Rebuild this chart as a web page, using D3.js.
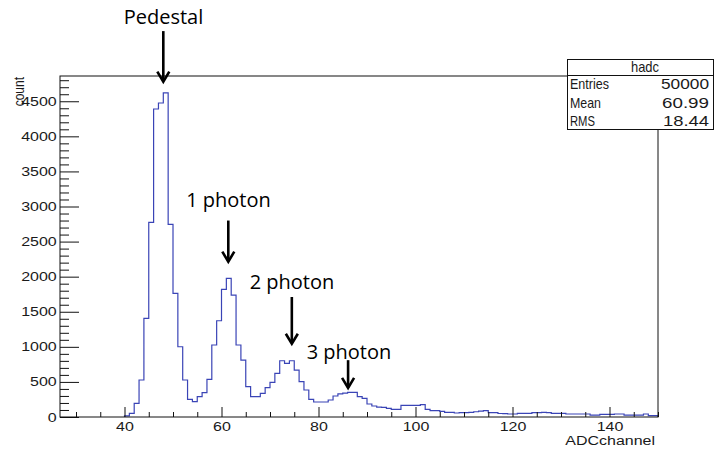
<!DOCTYPE html>
<html>
<head>
<meta charset="utf-8">
<script src="https://cdn.jsdelivr.net/npm/d3@7"></script>
<style>
  body { margin: 0; background: #fff; }
  svg { display: block; }
</style>
</head>
<body>
<script>
// ADC spectrum "hadc": 1-channel bins, counts per bin starting at channel 40
const firstChannel = 40;
const counts = [
  15, 52, 195, 527, 1405, 2775, 4390, 4475, 4620, 2745,      // 40-49
  1762, 1001, 527, 252, 218, 289, 346, 537, 1026, 1372,      // 50-59
  1819, 1976, 1738, 1026, 812, 432, 289, 290, 337, 418,      // 60-69
  494, 622, 802, 765, 802, 669, 503, 385, 252, 214,          // 70-79
  214, 214, 242, 299, 330, 340, 350, 350, 290, 266,          // 80-89
  185, 157, 140, 138, 123, 110, 109, 166, 166, 166,          // 90-99
  166, 176, 109, 90, 90, 80, 66, 66, 57, 62,                 // 100-109
  62, 66, 75, 85, 90, 62, 62, 50, 47, 43,                    // 110-119
  43, 52, 52, 52, 62, 62, 66, 62, 52, 52,                    // 120-129
  52, 43, 43, 43, 43, 43, 28, 28, 38, 38,                    // 130-139
  38, 43, 43, 28, 28, 28, 28, 43, 19, 19                     // 140-149
];
const channels = d3.range(firstChannel, firstChannel + counts.length);

const xDomain = [26.7, 150];
const yDomain = [0, 4860];
const xMajorTicks = [40, 60, 80, 100, 120, 140];
const xMinorTicks = [30, 35, 45, 50, 55, 65, 70, 75, 85, 90, 95, 105, 110, 115, 125, 130, 135, 145, 150];
const yMajorTicks = [0, 500, 1000, 1500, 2000, 2500, 3000, 3500, 4000, 4500];
const yMinorTicks = [100, 200, 300, 400, 600, 700, 800, 900, 1100, 1200, 1300, 1400,
  1600, 1700, 1800, 1900, 2100, 2200, 2300, 2400, 2600, 2700, 2800, 2900,
  3100, 3200, 3300, 3400, 3600, 3700, 3800, 3900, 4100, 4200, 4300, 4400,
  4600, 4700, 4800];

const histName = "hadc";
const statLabels = ["Entries", "Mean", "RMS"];
const statValues = ["50000", "60.99", "18.44"];

// peak annotations: arrow tip and tail in (channel, count) units
const peakLabels = ["Pedestal", "1 photon", "2 photon", "3 photon"];
const arrowChannels = [48.0, 61.4, 74.5, 86.1];
const arrowTipCounts = [4765, 2200, 1030, 400];
const arrowTailCounts = [5500, 2800, 1710, 810];

const W = 715, H = 451;
const frame = { left: 60, top: 76, right: 658, bottom: 417 };

const svg = d3.select("body").append("svg")
  .attr("width", W).attr("height", H)
  .style("font-family", "'Liberation Sans', Arial, Helvetica, sans-serif");

const x = d3.scaleLinear().domain(xDomain).range([frame.left, frame.right]);
const y = d3.scaleLinear().domain(yDomain).range([frame.bottom, frame.top]);

const axisColor = "#111";
const textColor = "#1a1a1a";
const labelStretch = 1.28;

// histogram outline drawn as steps
let d = `M${x(channels[0])},${y(0)}`;
channels.forEach((c, i) => {
  d += `V${y(counts[i])}H${x(c + 1)}`;
});
d += `V${y(0)}`;
svg.append("path")
  .attr("d", d)
  .attr("fill", "none")
  .attr("stroke", "#3a44b6")
  .attr("stroke-width", 1.2);

// y axis: ticks point into the frame
const yMajor = svg.append("g")
  .attr("transform", `translate(${frame.left},0)`)
  .call(d3.axisLeft(y).tickValues(yMajorTicks).tickSize(-19).tickPadding(0).tickFormat(d3.format("d")));
const yMinor = svg.append("g")
  .attr("transform", `translate(${frame.left},0)`)
  .call(d3.axisLeft(y).tickValues(yMinorTicks).tickSize(-9).tickFormat(""));

yMajor.selectAll("text")
  .attr("x", null)
  .attr("transform", `translate(-3.3,0) scale(${labelStretch},1)`)
  .attr("font-size", 12.5)
  .attr("fill", textColor);

// x axis
const xMajor = svg.append("g")
  .attr("transform", `translate(0,${frame.bottom})`)
  .call(d3.axisBottom(x).tickValues(xMajorTicks).tickSize(-10).tickPadding(5.5));
const xMinor = svg.append("g")
  .attr("transform", `translate(0,${frame.bottom})`)
  .call(d3.axisBottom(x).tickValues(xMinorTicks).tickSize(-5).tickFormat(""));

xMajor.selectAll("text")
  .attr("transform", `scale(${labelStretch},1)`)
  .attr("font-size", 12.5)
  .attr("fill", textColor);

[yMajor, yMinor, xMajor, xMinor].forEach(g => {
  g.select(".domain").remove();
  g.selectAll("line").attr("stroke", axisColor).attr("stroke-width", 1);
});

// frame
svg.append("rect")
  .attr("x", frame.left).attr("y", frame.top)
  .attr("width", frame.right - frame.left).attr("height", frame.bottom - frame.top)
  .attr("fill", "none").attr("stroke", axisColor).attr("stroke-width", 1);

// axis titles
svg.append("text")
  .attr("transform", `translate(655,445) scale(${labelStretch},1)`)
  .attr("text-anchor", "end")
  .attr("font-size", 12.5)
  .attr("fill", textColor)
  .text("ADCchannel");

svg.append("text")
  .attr("transform", `translate(23.5,77) scale(${labelStretch},1) rotate(-90)`)
  .attr("text-anchor", "end")
  .attr("font-size", 12)
  .attr("fill", textColor)
  .text("count");

// statistics box
const box = { x: 567.5, y: 59.5, w: 146, h: 70, split: 75.5 };
const stats = svg.append("g").attr("fill", textColor);
stats.append("rect")
  .attr("x", box.x).attr("y", box.y).attr("width", box.w).attr("height", box.h)
  .attr("fill", "#fff").attr("stroke", axisColor).attr("stroke-width", 1);
stats.append("line")
  .attr("x1", box.x).attr("x2", box.x + box.w)
  .attr("y1", box.split).attr("y2", box.split)
  .attr("stroke", axisColor);
stats.append("text")
  .attr("x", 645).attr("y", 71.5)
  .attr("text-anchor", "middle")
  .attr("font-size", 14.5)
  .attr("textLength", 28).attr("lengthAdjust", "spacingAndGlyphs")
  .text(histName);
const labelWidths = [39, 31, 25];
const valueWidths = [48, 47, 46];
const rowBaselines = [89, 107.5, 126];
statLabels.forEach((t, i) => {
  stats.append("text")
    .attr("x", 570).attr("y", rowBaselines[i])
    .attr("font-size", 14.5)
    .attr("textLength", labelWidths[i]).attr("lengthAdjust", "spacingAndGlyphs")
    .text(t);
  stats.append("text")
    .attr("x", 709 - valueWidths[i]).attr("y", rowBaselines[i])
    .attr("font-size", 14.5)
    .attr("textLength", valueWidths[i]).attr("lengthAdjust", "spacingAndGlyphs")
    .text(statValues[i]);
});

// peak annotations
const labelBaselines = [24, 207, 289, 359];
const labelCenters = [163.5, 228.5, 292, 349];
const ann = svg.append("g").attr("stroke", "#000").attr("fill", "none")
  .attr("stroke-width", 2.6).attr("stroke-linejoin", "miter");
arrowChannels.forEach((c, i) => {
  const ax = x(c), ty = y(arrowTipCounts[i]), sy = y(arrowTailCounts[i]);
  ann.append("line")
    .attr("x1", ax).attr("x2", ax).attr("y1", sy).attr("y2", ty - 1.5);
  ann.append("path")
    .attr("d", `M${ax - 6},${ty - 11}L${ax},${ty - 1}L${ax + 6},${ty - 11}`);
});
peakLabels.forEach((t, i) => {
  svg.append("text")
    .attr("x", labelCenters[i]).attr("y", labelBaselines[i])
    .attr("text-anchor", "middle")
    .attr("font-family", "'Open Sans', 'Noto Sans', sans-serif")
    .attr("font-size", 20)
    .attr("fill", "#000")
    .text(t);
});
</script>
</body>
</html>
